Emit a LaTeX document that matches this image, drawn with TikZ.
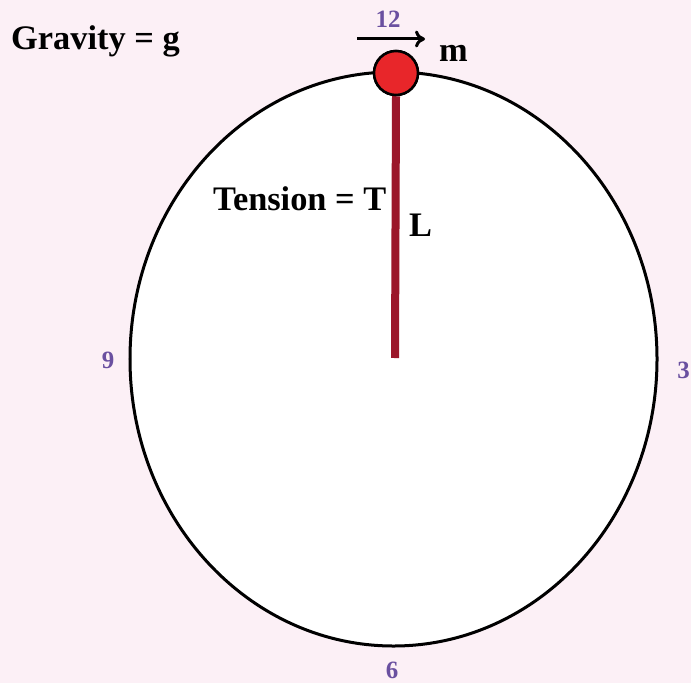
\documentclass[tikz,border=0pt]{standalone}
\usepackage{fontspec}
\setmainfont{Liberation Serif}
\usetikzlibrary{arrows.meta,shapes.geometric}
\definecolor{bgpink}{RGB}{252,240,246}
\definecolor{rodred}{RGB}{155,22,42}
\definecolor{massred}{RGB}{232,38,42}
\definecolor{numpurple}{RGB}{106,80,160}
\tikzset{
  lbl/.style={font=\bfseries\fontsize{34.5}{38}\selectfont, inner sep=0pt},
  num/.style={font=\bfseries\fontsize{25}{28}\selectfont, text=numpurple, inner sep=0pt},
}
\begin{document}
\begin{tikzpicture}[x=1bp,y=-1bp]
\fill[bgpink] (0,0) rectangle (691,683);
\useasboundingbox (0,0) rectangle (691,683);
\node[draw=black, line width=3bp, fill=white, ellipse, minimum width=527bp, minimum height=574bp, inner sep=0pt] (orbit) at (393.5,359) {};
\coordinate (pivot) at (395,358);
\node[circle, draw=black, line width=2.5bp, fill=massred, minimum size=44bp, inner sep=0pt] (mass) at (396,73) {};
\draw[rodred, line width=8bp] (mass.south) -- (pivot);
\node[circle, draw=black, line width=2.5bp, fill=massred, minimum size=44bp, inner sep=0pt] at (396,73) {};
\coordinate (a1) at (357,39);
\coordinate (a2) at (425,39);
\draw[line width=3bp, -{To[length=10bp,width=17bp,line width=3bp]}] (a1) -- (a2);
\node[num, anchor=base] (n12) at (388,28) {12};
\node[lbl, anchor=base west] (m) at (439,62) {m};
\node[lbl, anchor=base west] (grav) at (11,50) {Gravity = g};
\node[lbl, anchor=base west] (tens) at (213,210) {Tension = T};
\node[lbl, anchor=base west] (L) at (409,236) {L};
\node[num] (n9) at (108,360) {9};
\node[num, anchor=east] (n3) at (690,370) {3};
\node[num] (n6) at (392,670) {6};
\end{tikzpicture}
\end{document}
